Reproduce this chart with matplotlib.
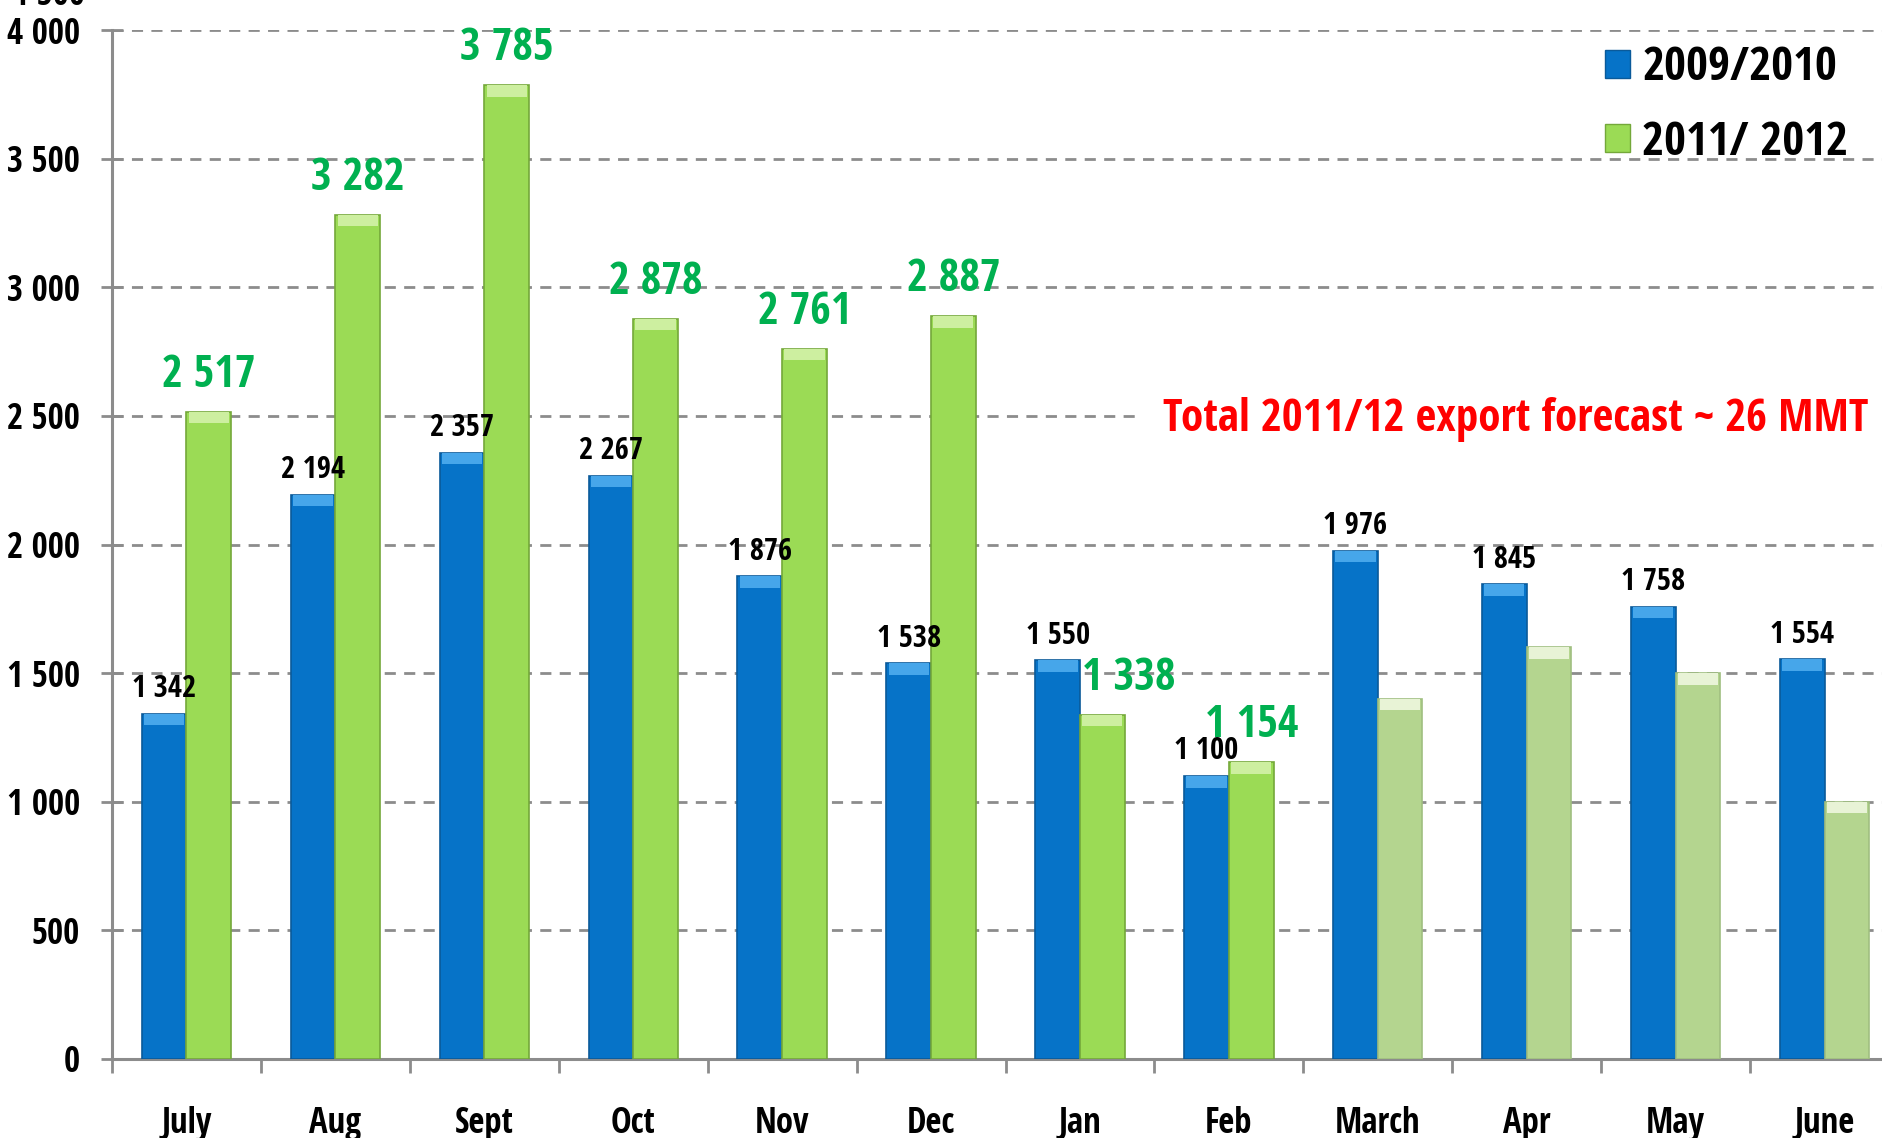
import matplotlib
matplotlib.use("Agg")
import matplotlib.pyplot as plt
import numpy as np
from matplotlib.patches import Patch

plt.rcParams['font.family'] = ['Open Sans Condensed', 'DejaVu Sans']
plt.rcParams['font.weight'] = 'bold'

months = ["July", "Aug", "Sept", "Oct", "Nov", "Dec", "Jan", "Feb",
          "March", "Apr", "May", "June"]
exports_0910 = [1342, 2194, 2357, 2267, 1876, 1538, 1550, 1100, 1976, 1845, 1758, 1554]
exports_1112 = [2517, 3282, 3785, 2878, 2761, 2887, 1338, 1154]
forecast_1112 = [1400, 1600, 1500, 1000]
yticks = [0, 500, 1000, 1500, 2000, 2500, 3000, 3500, 4000]


def fmt(v):
    return "{:,}".format(v).replace(",", " ")


W, H = 1883, 1138
fig = plt.figure(figsize=(W / 100, H / 100), dpi=100)
ax = fig.add_axes([112 / W, 79 / H, (1899 - 112) / W, 1029 / H])

x = np.arange(len(months))
bw = 0.30
n_act = len(exports_1112)
green_vals = exports_1112 + forecast_1112

blue = "#0673C8"
blue_top = "#46A6EA"
green = "#9BDB55"
green_top = "#CDEFA0"
fc_green = "#B4D58F"
fc_top = "#E8F3D6"

cap = 45
# blue bars
ax.bar(x - bw / 2, exports_0910, bw, color=blue, edgecolor="#0A5A9A", linewidth=1.2, zorder=3)
ax.bar(x - bw / 2, [cap] * len(x), bw * 0.9, bottom=np.array(exports_0910) - cap,
       color=blue_top, linewidth=0, zorder=4)
# green bars, actual + forecast
gcols = [green] * n_act + [fc_green] * len(forecast_1112)
gtops = [green_top] * n_act + [fc_top] * len(forecast_1112)
gedges = ["#74A83A"] * n_act + ["#A0BF80"] * len(forecast_1112)
ax.bar(x + bw / 2, green_vals, bw, color=gcols, edgecolor=gedges, linewidth=1.2, zorder=3)
ax.bar(x + bw / 2, [cap] * len(x), bw * 0.9, bottom=np.array(green_vals) - cap,
       color=gtops, linewidth=0, zorder=4)

# value labels
for i, v in enumerate(exports_0910):
    ax.annotate(fmt(v), (x[i] - bw / 2, v), xytext=(0, 7), textcoords="offset points",
                ha="center", va="bottom", fontsize=22, fontweight="bold", color="black", zorder=6)
for i, v in enumerate(exports_1112):
    dx = 19 if months[i] == "Jan" else 0   # Jan label nudged right, as in the original
    ax.annotate(fmt(v), (x[i] + bw / 2, v), xytext=(dx, 10), textcoords="offset points",
                ha="center", va="bottom", fontsize=32, fontweight="bold", color="#00B050", zorder=6)

ax.set_xlim(-0.5, len(months) - 0.5)
ax.set_ylim(0, 4000)
ax.set_yticks(yticks)
ax.set_yticklabels([fmt(t) for t in yticks])
ax.set_xticks(np.arange(len(months) + 1) - 0.5)
ax.set_xticklabels([])
ax.set_xticks(x, minor=True)
ax.set_xticklabels(months, minor=True)
ax.tick_params(axis="x", which="major", direction="out", length=10, width=2, color="#8C8C8C")
ax.tick_params(axis="x", which="minor", length=0, pad=34, labelsize=25)
ax.tick_params(axis="y", direction="inout", length=16, width=2, color="#8C8C8C",
               labelsize=25, pad=15)
for lab in ax.get_xticklabels(minor=True) + ax.get_yticklabels():
    lab.set_fontweight("bold")

ax.yaxis.grid(True, linestyle=(0, (4, 3)), color="#8C8C8C", linewidth=2, zorder=0)
ax.set_axisbelow(True)
for s in ["top", "right"]:
    ax.spines[s].set_visible(False)
for s in ["left", "bottom"]:
    ax.spines[s].set_color("#8C8C8C")
    ax.spines[s].set_linewidth(2.2)

# cut-off label at the very top edge of the original
fig.text(12 / W, 1 - 5 / H, "4 500", fontsize=25, fontweight="bold", va="baseline")

handles = [Patch(facecolor=blue, edgecolor="#0A5A9A", label="2009/2010"),
           Patch(facecolor=green, edgecolor="#74A83A", label="2011/ 2012")]
leg = fig.legend(handles=handles, loc="upper left", bbox_to_anchor=(1562 / W, 1 - 2 / H),
                 frameon=False, fontsize=34, handlelength=0.55, handleheight=0.55,
                 handletextpad=0.25, labelspacing=0.58)
for t in leg.get_texts():
    t.set_fontweight("bold")

ax.text(1868 / W, 1 - 419 / H, "Total 2011/12 export forecast ~ 26 MMT", transform=fig.transFigure,
        ha="right", va="center", fontsize=32.5, fontweight="bold", color="#FF0000", zorder=7,
        bbox=dict(facecolor="white", edgecolor="none", pad=14))

fig.savefig("out.png", dpi=100)
